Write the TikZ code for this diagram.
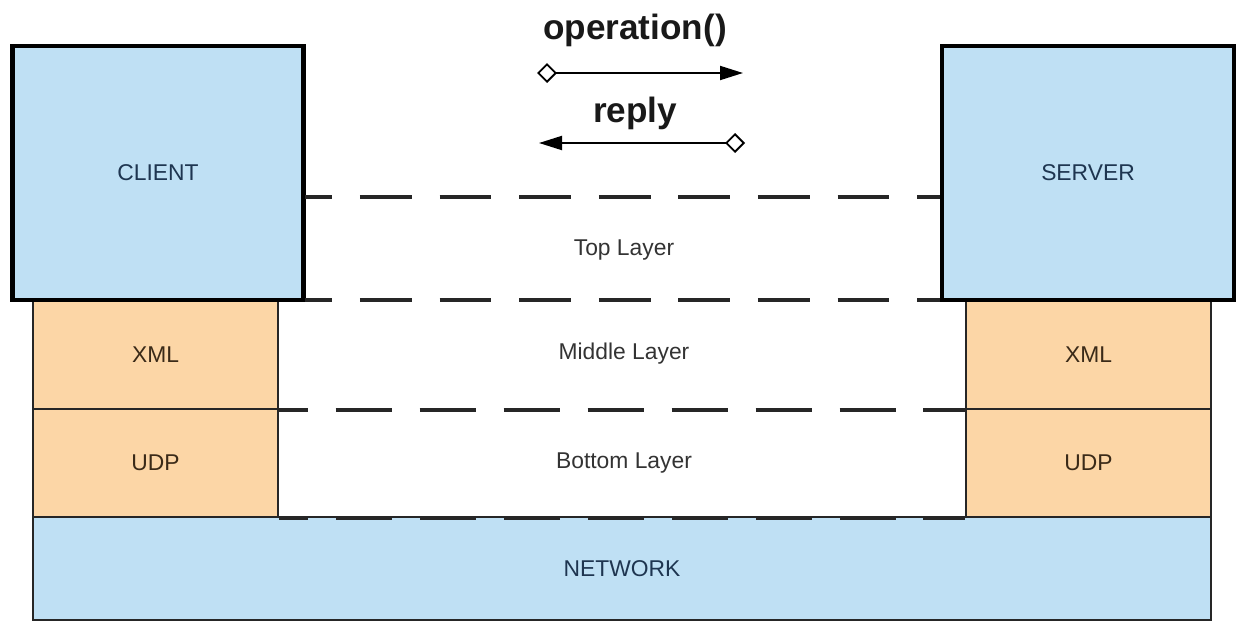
\documentclass[tikz,border=0pt]{standalone}
\usepackage{fontspec}
\setmainfont{Liberation Sans}
\usetikzlibrary{arrows.meta}
\definecolor{boxblue}{HTML}{BFE0F4}
\definecolor{boxorange}{HTML}{FCD6A6}
\definecolor{navytext}{HTML}{1E3550}
\definecolor{browntext}{HTML}{3A2A18}
\definecolor{greytext}{HTML}{333333}
\tikzset{
  hostbox/.style={draw=black, line width=2.6pt, fill=boxblue, inner sep=0pt, text=navytext, font=\fontsize{13}{15}\selectfont},
  protobox/.style={draw=black!85, line width=1.2pt, fill=boxorange, inner sep=0pt, text=browntext, font=\fontsize{13}{15}\selectfont},
  netbox/.style={draw=black!85, line width=1.2pt, fill=boxblue, inner sep=0pt, text=navytext, font=\fontsize{13}{15}\selectfont},
  layerlabel/.style={text=greytext, font=\fontsize{13}{15}\selectfont},
  msglabel/.style={text=black!90, font=\fontsize{20}{24}\selectfont\bfseries},
  layerdash/.style={draw=black!85, line width=1.8pt, dash pattern=on 29.5pt off 15.8pt, dash phase=14pt},
  stackdash/.style={draw=black!85, line width=1.8pt, dash pattern=on 32pt off 15.8pt, dash phase=15.6pt},
  msgarrow/.style={line width=1.1pt, draw=black}
}
\begin{document}
\begin{tikzpicture}[x=0.02cm, y=-0.02cm]
\useasboundingbox[fill=white] (0,0) rectangle (1245,622);
% network
\node[netbox, minimum width=23.56cm, minimum height=2.06cm] (net) at (622,568.5) {NETWORK};
% protocol stacks
\node[protobox, minimum width=4.9cm, minimum height=2.18cm] (xmlL) at (155.5,354.5) {XML};
\node[protobox, minimum width=4.9cm, minimum height=2.16cm] (udpL) at (155.5,463) {UDP};
\node[protobox, minimum width=4.9cm, minimum height=2.18cm] (xmlR) at (1088.5,354.5) {XML};
\node[protobox, minimum width=4.9cm, minimum height=2.16cm] (udpR) at (1088.5,463) {UDP};
% hosts
\node[hostbox, minimum width=5.82cm, minimum height=5.08cm] (client) at (158,173) {CLIENT};
\node[hostbox, minimum width=5.84cm, minimum height=5.08cm] (server) at (1088,173) {SERVER};
% layer boundaries
\coordinate (tl) at (305,197);
\coordinate (tr) at (940,197);
\coordinate (ml) at (305,300);
\coordinate (mr) at (940,300);
\draw[layerdash] (tl) -- (tr);
\draw[layerdash] (ml) -- (mr);
\draw[stackdash] (xmlL.south east) -- (xmlR.south west);
\draw[stackdash] (udpL.south east) -- (udpR.south west);
% layer labels
\node[layerlabel] (top) at (624,250) {Top Layer};
\node[layerlabel] (mid) at (624,354) {Middle Layer};
\node[layerlabel] (bot) at (624,463) {Bottom Layer};
% messages
\node[msglabel] (op) at (635,30) {operation()};
\node[msglabel] (rep) at (635,113) {reply};
\coordinate (opS) at (537,73);
\coordinate (opE) at (743,73);
\coordinate (repS) at (745,143);
\coordinate (repE) at (539,143);
\draw[msgarrow, {Diamond[open,length=0.4cm,width=0.4cm,line width=1.1pt]}-{Triangle[length=0.46cm,width=0.28cm]}] (opS) -- (opE);
\draw[msgarrow, {Diamond[open,length=0.4cm,width=0.4cm,line width=1.1pt]}-{Triangle[length=0.46cm,width=0.28cm]}] (repS) -- (repE);
\end{tikzpicture}
\end{document}
